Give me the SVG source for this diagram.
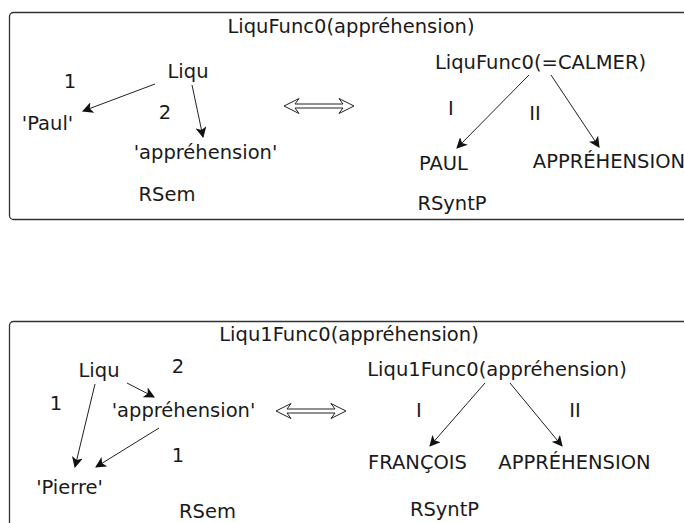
<svg xmlns="http://www.w3.org/2000/svg" width="684" height="523" viewBox="0 0 684 523">
  <defs>
    <marker id="ah" viewBox="0 0 10 10" refX="9" refY="5" markerWidth="11" markerHeight="11" markerUnits="userSpaceOnUse" orient="auto">
      <path d="M0,0 L10,5 L0,10 L2.5,5 Z" fill="#111"/>
    </marker>
  </defs>
  <style>
    text { font-family: "DejaVu Sans", "Liberation Sans", sans-serif; font-size: 19.5px; fill: #1a1a1a; text-anchor: middle; }
    .frame { fill: none; stroke: #333; stroke-width: 1.3; }
    .edge { stroke: #222; stroke-width: 1; fill: none; marker-end: url(#ah); }
    .dbl { stroke: #222; stroke-width: 1; fill: #fff; stroke-linejoin: miter; }
  </style>
  <rect width="684" height="523" fill="#fff"/>

  <!-- upper panel -->
  <rect class="frame" x="9.5" y="12.5" width="700" height="207" rx="4"/>
  <!-- lower panel -->
  <rect class="frame" x="9.5" y="321.5" width="700" height="260" rx="4"/>

  <g id="connectors">
    <line class="edge" x1="155" y1="84" x2="83" y2="111"/>
    <line class="edge" x1="192" y1="85" x2="203" y2="137"/>
    <line class="edge" x1="529" y1="75" x2="457" y2="148"/>
    <line class="edge" x1="551" y1="75" x2="599" y2="147"/>

    <line class="edge" x1="127" y1="383" x2="154" y2="397"/>
    <line class="edge" x1="95" y1="384" x2="75" y2="467"/>
    <line class="edge" x1="159" y1="428" x2="96" y2="467"/>
    <line class="edge" x1="485" y1="383" x2="430" y2="446"/>
    <line class="edge" x1="510" y1="383" x2="562" y2="446"/>

    <!-- equivalence arrows -->
    <path class="dbl" d="M284,106 L299,98.5 L295,104 L343,104 L339,98.5 L354,106 L339,113.5 L343,108 L295,108 L299,113.5 Z"/>
    <path class="dbl" d="M276,411 L291,403.5 L287,409 L335,409 L331,403.5 L346,411 L331,418.5 L335,413 L287,413 L291,418.5 Z"/>
  </g>

  <!-- upper panel nodes -->
  <g id="title-top"><text x="351" y="33">LiquFunc0(appréhension)</text></g>
  <g id="sem-liqu"><text x="188" y="78">Liqu</text></g>
  <g id="sem-paul"><text x="47.5" y="130">'Paul'</text></g>
  <g id="sem-appr"><text x="205.5" y="159">'appréhension'</text></g>
  <g id="lab-1a"><text x="70" y="88">1</text></g>
  <g id="lab-2a"><text x="165" y="119">2</text></g>
  <g id="rsem-top"><text x="167" y="201">RSem</text></g>

  <g id="synt-calmer"><text x="540.5" y="69">LiquFunc0(=CALMER)</text></g>
  <g id="synt-paul"><text x="443.5" y="170">PAUL</text></g>
  <g id="synt-appr"><text x="609" y="168">APPRÉHENSION</text></g>
  <g id="lab-Ia"><text x="451" y="115">I</text></g>
  <g id="lab-IIa"><text x="535" y="120">II</text></g>
  <g id="rsynt-top"><text x="452" y="210">RSyntP</text></g>

  <!-- lower panel nodes -->
  <g id="title-bottom"><text x="349" y="341">Liqu1Func0(appréhension)</text></g>
  <g id="sem-liqu2"><text x="99" y="377">Liqu</text></g>
  <g id="sem-appr2"><text x="183.5" y="417">'appréhension'</text></g>
  <g id="sem-pierre"><text x="69.5" y="494">'Pierre'</text></g>
  <g id="lab-2b"><text x="178" y="373">2</text></g>
  <g id="lab-1b"><text x="56" y="410">1</text></g>
  <g id="lab-1c"><text x="178" y="462">1</text></g>
  <g id="rsem-bottom"><text x="207.5" y="518">RSem</text></g>

  <g id="synt-liqu1"><text x="497" y="376">Liqu1Func0(appréhension)</text></g>
  <g id="synt-francois"><text x="417.5" y="469">FRANÇOIS</text></g>
  <g id="synt-appr2"><text x="574.5" y="469">APPRÉHENSION</text></g>
  <g id="lab-Ib"><text x="419" y="417">I</text></g>
  <g id="lab-IIb"><text x="575" y="417">II</text></g>
  <g id="rsynt-bottom"><text x="444.5" y="516">RSyntP</text></g>
</svg>
